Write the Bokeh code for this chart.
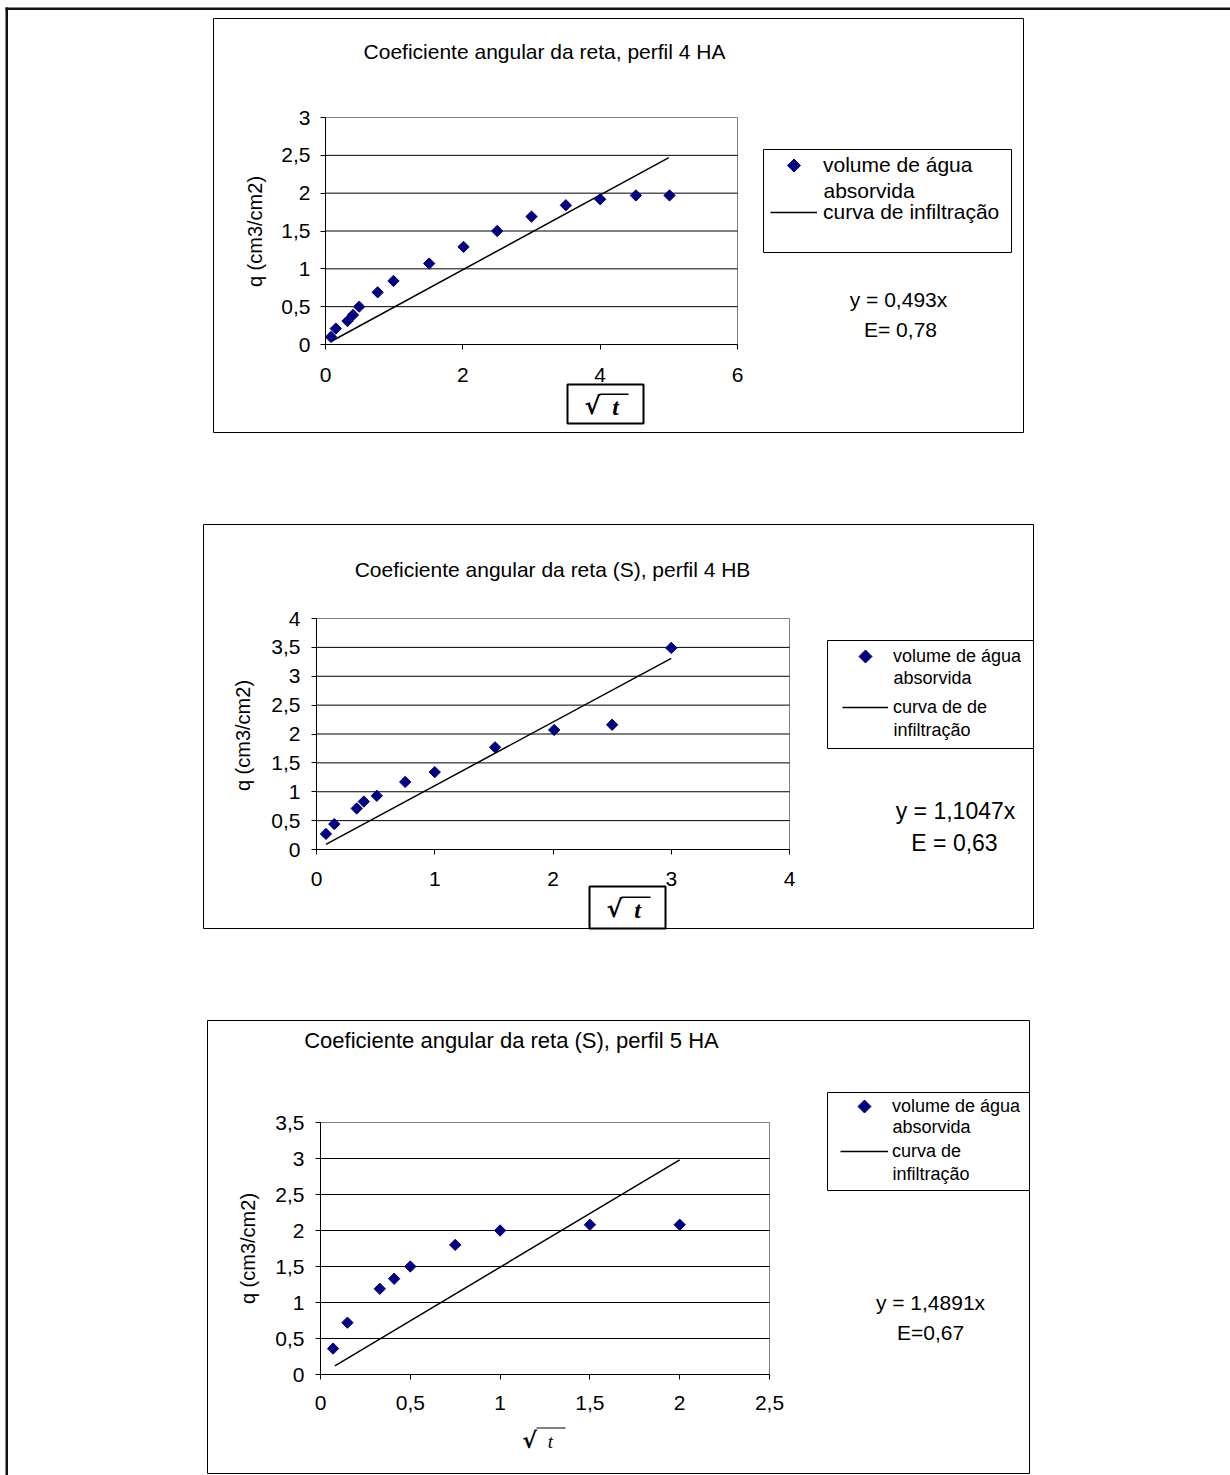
import math
from bokeh.plotting import figure
from bokeh.models import (Range1d, FixedTicker, BoxAnnotation, Label, Legend,
                          LegendItem, LinearAxis, PolyAnnotation)
from bokeh.embed import file_html
from bokeh.resources import INLINE

FONT = "Liberation Sans"
PAGE_W, PAGE_H = 1230, 1475
NAVY = "#000080"

# ---------------- data ----------------
# perfil 4 HA
x_4ha = [0.08, 0.15, 0.32, 0.40, 0.49, 0.76, 0.99, 1.51, 2.01, 2.50, 3.00, 3.50, 4.00, 4.52, 5.01]
q_4ha = [0.10, 0.21, 0.31, 0.39, 0.50, 0.69, 0.84, 1.07, 1.29, 1.50, 1.69, 1.84, 1.92, 1.97, 1.97]
line_x_4ha = [0.08, 5.00]
line_y_4ha = [0.04, 2.47]
xticks_4ha = [0, 2, 4, 6]
xlabels_4ha = ["0", "2", "4", "6"]
yticks_4ha = [0, 0.5, 1, 1.5, 2, 2.5, 3]
ylabels_4ha = ["0", "0,5", "1", "1,5", "2", "2,5", "3"]

# perfil 4 HB
x_4hb = [0.08, 0.15, 0.34, 0.40, 0.51, 0.75, 1.00, 1.51, 2.01, 2.50, 3.00]
q_4hb = [0.27, 0.44, 0.71, 0.83, 0.93, 1.17, 1.34, 1.77, 2.07, 2.16, 3.49]
line_x_4hb = [0.08, 3.00]
line_y_4hb = [0.09, 3.31]
xticks_4hb = [0, 1, 2, 3, 4]
xlabels_4hb = ["0", "1", "2", "3", "4"]
yticks_4hb = [0, 0.5, 1, 1.5, 2, 2.5, 3, 3.5, 4]
ylabels_4hb = ["0", "0,5", "1", "1,5", "2", "2,5", "3", "3,5", "4"]

# perfil 5 HA
x_5ha = [0.07, 0.15, 0.33, 0.41, 0.50, 0.75, 1.00, 1.50, 2.00]
q_5ha = [0.36, 0.72, 1.19, 1.33, 1.50, 1.80, 2.00, 2.08, 2.08]
line_x_5ha = [0.08, 2.00]
line_y_5ha = [0.12, 2.98]
xticks_5ha = [0, 0.5, 1, 1.5, 2, 2.5]
xlabels_5ha = ["0", "0,5", "1", "1,5", "2", "2,5"]
yticks_5ha = [0, 0.5, 1, 1.5, 2, 2.5, 3, 3.5]
ylabels_5ha = ["0", "0,5", "1", "1,5", "2", "2,5", "3", "3,5"]

# ---------------- layout specs (page pixels) ----------------
charts = [
    dict(name="c1", frame=(325, 737, 117, 344),
         x=x_4ha, q=q_4ha, lx=line_x_4ha, ly=line_y_4ha,
         xt=xticks_4ha, xl=xlabels_4ha, yt=yticks_4ha, yl=ylabels_4ha,
         tick_font=21, xstand=18, ystand=10,
         box=(213, 18, 1023, 432),
         title="Coeficiente angular da reta, perfil 4 HA", title_pos=(544, 51), title_font=21,
         ylab_pos=(254, 231), ylab_font=20,
         leg_box=(763, 149, 1011, 252), leg_tl=(770, 153), leg_H=24, leg_S=23, leg_GW=47, leg_LS=6,
         leg_font=21,
         leg_labels=["volume de água", "curva de infiltração"],
         leg_extra=[("absorvida", 823, 190)],
         eq=[("y = 0,493x", 898, 299), ("E= 0,78", 900, 329)], eq_font=21,
         sqrt_box=(567, 384, 643, 423), sqrt_c=(605, 404), sqrt_bold=True),
    dict(name="c2", frame=(316, 789, 618, 849),
         x=x_4hb, q=q_4hb, lx=line_x_4hb, ly=line_y_4hb,
         xt=xticks_4hb, xl=xlabels_4hb, yt=yticks_4hb, yl=ylabels_4hb,
         tick_font=21, xstand=17, ystand=11,
         box=(203, 524, 1033, 928),
         title="Coeficiente angular da reta (S), perfil 4 HB", title_pos=(552, 569), title_font=21,
         ylab_pos=(242, 735), ylab_font=20,
         leg_box=(827, 640, 1033, 748), leg_tl=(842, 645), leg_H=22, leg_S=29, leg_GW=46, leg_LS=5,
         leg_font=18,
         leg_labels=["volume de água", "curva de de"],
         leg_extra=[("absorvida", 893, 677), ("infiltração", 893, 729)],
         eq=[("y = 1,1047x", 955, 810), ("E = 0,63", 954, 842)], eq_font=23,
         sqrt_box=(589, 886, 665, 928), sqrt_c=(627, 907), sqrt_bold=True),
    dict(name="c3", frame=(320, 769, 1122, 1374),
         x=x_5ha, q=q_5ha, lx=line_x_5ha, ly=line_y_5ha,
         xt=xticks_5ha, xl=xlabels_5ha, yt=yticks_5ha, yl=ylabels_5ha,
         tick_font=21, xstand=16, ystand=11,
         box=(207, 1020, 1029, 1473),
         title="Coeficiente angular da reta (S), perfil 5 HA", title_pos=(511, 1040), title_font=22,
         ylab_pos=(247, 1248), ylab_font=20,
         leg_box=(827, 1092, 1029, 1190), leg_tl=(840, 1095), leg_H=22, leg_S=23, leg_GW=48, leg_LS=4,
         leg_font=18,
         leg_labels=["volume de água", "curva de"],
         leg_extra=[("absorvida", 892, 1126), ("infiltração", 892, 1173)],
         eq=[("y = 1,4891x", 930, 1302), ("E=0,67", 930, 1332)], eq_font=21,
         sqrt_box=None, sqrt_c=(541, 1439), sqrt_bold=False),
]

# One canvas for the page; its own ranges are page pixels (y downward).
p = figure(width=PAGE_W, height=PAGE_H,
           x_range=Range1d(0, PAGE_W), y_range=Range1d(PAGE_H, 0),
           x_axis_type=None, y_axis_type=None,
           output_backend="svg", toolbar_location=None,
           min_border_left=0, min_border_right=0, min_border_top=0, min_border_bottom=0)
p.title.visible = False
p.outline_line_color = None
p.background_fill_color = "white"
p.border_fill_color = "white"


def box(l, t, r, b, line_color="black", line_width=1, fill_color=None, level="annotation"):
    p.add_layout(BoxAnnotation(
        left=l, right=r, top=t, bottom=b, level=level,
        fill_color=fill_color or "white", fill_alpha=1.0 if fill_color else 0.0,
        line_color=line_color or "black", line_alpha=1.0 if line_color else 0.0,
        line_width=line_width))


def text(px, py, s, size, align="center", angle=0.0, font=FONT, style="normal"):
    p.add_layout(Label(x=px, y=py, text=s, text_font=font,
                       text_font_size=f"{size}px", text_font_style=style,
                       text_align=align, text_baseline="middle",
                       text_color="black", angle=angle))


def diamond(cx, cy, r):
    p.add_layout(PolyAnnotation(xs=[cx, cx + r, cx, cx - r], ys=[cy - r, cy, cy + r, cy],
                                fill_color=NAVY, fill_alpha=1.0,
                                line_color=NAVY, line_alpha=1.0, line_width=1))


# page frame (left and top rule)
box(5, 7, 7.5, PAGE_H, line_color=None, fill_color="#111111")
box(5, 7, PAGE_W, 9.5, line_color=None, fill_color="#111111")

extra_x, extra_y = {}, {}


def add_chart(c):
    L, R, T, B = c["frame"]
    x0, x1 = c["xt"][0], c["xt"][-1]
    y0, y1 = c["yt"][0], c["yt"][-1]
    kx = (x1 - x0) / (R - L)
    ky = (y1 - y0) / (B - T)
    xn, yn = c["name"] + "x", c["name"] + "y"
    extra_x[xn] = Range1d(x0 - L * kx, x0 + (PAGE_W - L) * kx)
    extra_y[yn] = Range1d(y0 - (PAGE_H - B) * ky, y1 + T * ky)

    # chart box
    box(*c["box"])

    # plot area outline (grey) and horizontal gridlines
    p.add_layout(BoxAnnotation(left=x0, right=x1, bottom=y0, top=y1,
                               x_range_name=xn, y_range_name=yn, level="underlay",
                               fill_alpha=0.0, line_color="#808080", line_alpha=1.0,
                               line_width=1))
    yg = c["yt"][1:-1]
    p.segment(x0=[x0] * len(yg), y0=yg, x1=[x1] * len(yg), y1=yg,
              line_color="black", line_width=1, x_range_name=xn, y_range_name=yn)

    # axes, fixed at the data origin
    xa = LinearAxis(x_range_name=xn, y_range_name=yn, fixed_location=y0, bounds=(x0, x1),
                    ticker=FixedTicker(ticks=c["xt"], minor_ticks=[]),
                    major_label_overrides=dict(zip(c["xt"], c["xl"])),
                    major_label_standoff=c["xstand"])
    ya = LinearAxis(x_range_name=xn, y_range_name=yn, fixed_location=x0, bounds=(y0, y1),
                    ticker=FixedTicker(ticks=c["yt"], minor_ticks=[]),
                    major_label_overrides=dict(zip(c["yt"], c["yl"])),
                    major_label_standoff=c["ystand"])
    for ax in (xa, ya):
        ax.axis_line_color = "black"
        ax.axis_line_width = 1
        ax.major_tick_line_color = "black"
        ax.major_tick_out = 5
        ax.major_tick_in = 0
        ax.minor_tick_line_color = None
        ax.major_label_text_font = FONT
        ax.major_label_text_font_size = f"{c['tick_font']}px"
        ax.major_label_text_color = "black"
    p.add_layout(xa, "below")
    p.add_layout(ya, "left")

    # data
    ln = p.line(c["lx"], c["ly"], line_color="black", line_width=1.5,
                x_range_name=xn, y_range_name=yn)
    sc = p.scatter(c["x"], c["q"], marker="square", angle=math.pi / 4, size=8,
                   fill_color=NAVY, line_color=NAVY,
                   x_range_name=xn, y_range_name=yn)
    # transparent stand-in for the legend swatch (the diamond swatch is drawn below)
    sc_key = p.scatter(c["x"][:1], c["q"][:1], marker="square", size=8,
                       fill_alpha=0.0, line_alpha=0.0,
                       x_range_name=xn, y_range_name=yn)

    # title and axis label
    text(*c["title_pos"], c["title"], c["title_font"])
    text(*c["ylab_pos"], "q (cm3/cm2)", c["ylab_font"], angle=math.pi / 2)

    # legend
    box(*c["leg_box"])
    Hh, S = c["leg_H"], c["leg_S"]
    lt_x, lt_y = c["leg_tl"]
    leg_bottom = lt_y + 2 * Hh + S
    leg = Legend(items=[LegendItem(label=c["leg_labels"][0], renderers=[sc_key]),
                        LegendItem(label=c["leg_labels"][1], renderers=[ln])],
                 location=(lt_x, PAGE_H - leg_bottom), orientation="vertical",
                 padding=0, margin=0, spacing=S,
                 glyph_width=c["leg_GW"], glyph_height=Hh, label_height=Hh,
                 label_standoff=c["leg_LS"],
                 label_text_font=FONT, label_text_font_size=f"{c['leg_font']}px",
                 label_text_color="black",
                 border_line_alpha=0, background_fill_alpha=0)
    p.add_layout(leg)
    diamond(lt_x + c["leg_GW"] / 2, lt_y + Hh / 2, 6.5)
    for s, px, py in c["leg_extra"]:
        text(px, py, s, c["leg_font"], align="left")

    # equation
    for s, px, py in c["eq"]:
        text(px, py, s, c["eq_font"])

    # sqrt(t) axis title
    if c["sqrt_box"] is not None:
        box(*c["sqrt_box"], line_width=2)
    cx, cy = c["sqrt_c"]
    if c["sqrt_bold"]:
        text(cx - 13, cy + 1, "\u221a", 24, font="DejaVu Sans", style="bold")
        text(cx + 10, cy + 2, "t", 24, font="Liberation Serif", style="bold italic")
        box(cx - 6, cy - 11, cx + 23, cy - 9.5, line_color=None, fill_color="black")
    else:
        text(cx - 12, cy + 1, "\u221a", 22, font="DejaVu Sans", style="bold")
        text(cx + 9, cy + 2, "t", 19, font="Liberation Serif", style="italic")
        box(cx - 5, cy - 12, cx + 24, cy - 11, line_color=None, fill_color="black")


for c in charts:
    add_chart(c)

p.extra_x_ranges = extra_x
p.extra_y_ranges = extra_y

with open("out.html", "w") as f:
    f.write(file_html(p, INLINE))
